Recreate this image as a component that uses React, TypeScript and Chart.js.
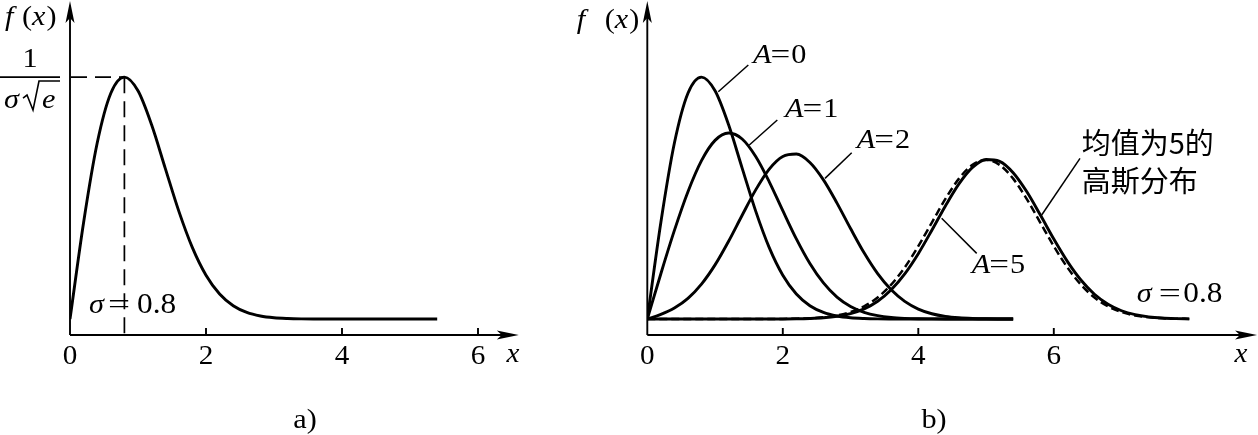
import React, { useEffect, useRef } from "react";
import { Chart, registerables } from "chart.js";
Chart.register(...registerables);

// ---------- data (sigma = 0.8) ----------
const xNear = [0, 0.2, 0.4, 0.6, 0.8, 1, 1.2, 1.4, 1.6, 1.8, 2, 2.2, 2.4, 2.6, 2.8, 3, 3.2, 3.4, 3.6, 3.8, 4, 4.2, 4.4, 4.6, 4.8, 5, 5.2, 5.4];
const xWide = [0, 0.2, 0.4, 0.6, 0.8, 1, 1.2, 1.4, 1.6, 1.8, 2, 2.2, 2.4, 2.6, 2.8, 3, 3.2, 3.4, 3.6, 3.8, 4, 4.2, 4.4, 4.6, 4.8, 5, 5.2, 5.4, 5.6, 5.8, 6, 6.2, 6.4, 6.6, 6.8, 7, 7.2, 7.4, 7.6, 7.8, 8];

const rayleighA0 = [0, 0.3029, 0.5516, 0.7076, 0.7582, 0.7153, 0.6088, 0.4732, 0.3383, 0.2238, 0.1373, 0.0784, 0.0417, 0.0207, 0.0096, 0.0041, 0.0017, 0.0006, 0.0002, 0.0001, 0, 0, 0, 0, 0, 0, 0, 0];
const ricianA1 = [0, 0.1421, 0.2778, 0.3991, 0.4965, 0.56, 0.5831, 0.5644, 0.5095, 0.4302, 0.3397, 0.2513, 0.1741, 0.1131, 0.0686, 0.0392, 0.0209, 0.0105, 0.0049, 0.0022, 0.0009, 0.0004, 0.0001, 0, 0, 0, 0, 0];
const ricianA2 = [0, 0.0146, 0.0347, 0.065, 0.1096, 0.1698, 0.2439, 0.3254, 0.4049, 0.4701, 0.5097, 0.5171, 0.4909, 0.4363, 0.3634, 0.2837, 0.2075, 0.1423, 0.0915, 0.0553, 0.0313, 0.0166, 0.0083, 0.0039, 0.0017, 0.0007, 0.0003, 0.0001];
const ricianA5 = [0, 0, 0, 0, 0, 0, 0, 0, 0, 0.0001, 0.0003, 0.0007, 0.0018, 0.004, 0.0086, 0.0171, 0.0319, 0.0559, 0.0919, 0.1417, 0.205, 0.2783, 0.3544, 0.4236, 0.4752, 0.5003, 0.4944, 0.4587, 0.3995, 0.3267, 0.2508, 0.1808, 0.1223, 0.0777, 0.0464, 0.026, 0.0137, 0.0068, 0.0031, 0.0014, 0.0006];
const gaussMean5 = [0, 0, 0, 0, 0, 0, 0, 0, 0, 0.0002, 0.0004, 0.0011, 0.0025, 0.0055, 0.0114, 0.0219, 0.0397, 0.0675, 0.1078, 0.1619, 0.2283, 0.3025, 0.3764, 0.4401, 0.4833, 0.4987, 0.4833, 0.4401, 0.3764, 0.3025, 0.2283, 0.1619, 0.1078, 0.0675, 0.0397, 0.0219, 0.0114, 0.0055, 0.0025, 0.0011, 0.0004];

const tickValues = [0, 2, 4, 6];
const tickLabels = ["0", "2", "4", "6"];
const riceLabels = ["0", "1", "2", "5"];
const gaussLabel = ["均值为5的", "高斯分布"];
const sigmaText = "0.8";

// ---------- styles ----------
const SERIF = '"Liberation Serif", "Times New Roman", serif';
const CJK = '"Noto Sans CJK SC", "Noto Sans CJK JP", sans-serif';
const font = (size: number, italic = false) => `${italic ? "italic " : ""}${size}px ${SERIF}`;
const INK = "#000";

const pairs = (xs: number[], ys: number[]) => xs.map((x, i) => ({ x, y: ys[i] }));

function seg(ctx: CanvasRenderingContext2D, x1: number, y1: number, x2: number, y2: number) {
  ctx.beginPath();
  ctx.moveTo(x1, y1);
  ctx.lineTo(x2, y2);
  ctx.stroke();
}

function arrowHead(ctx: CanvasRenderingContext2D, tx: number, ty: number, dx: number, dy: number) {
  const len = 22, half = 4.5, notch = 5;
  const bx = tx - dx * len, by = ty - dy * len;
  const px = -dy, py = dx;
  ctx.beginPath();
  ctx.moveTo(tx, ty);
  ctx.lineTo(bx + px * half, by + py * half);
  ctx.lineTo(tx - dx * (len - notch), ty - dy * (len - notch));
  ctx.lineTo(bx - px * half, by - py * half);
  ctx.closePath();
  ctx.fill();
}

// text with a slight horizontal stretch to match the wider print
function txt(
  ctx: CanvasRenderingContext2D,
  s: string,
  x: number,
  y: number,
  f: string,
  align: CanvasTextAlign = "left",
  sx = 1.08
) {
  ctx.save();
  ctx.font = f;
  ctx.textAlign = align;
  ctx.textBaseline = "alphabetic";
  ctx.fillStyle = INK;
  ctx.translate(x, y);
  ctx.scale(sx, 1);
  ctx.fillText(s, 0, 0);
  const w = ctx.measureText(s).width * sx;
  ctx.restore();
  return w;
}

function drawFrame(chart: any, xLabelAt: number, panelName: string, panelAt: number) {
  const { ctx, chartArea: a } = chart;
  const xs = chart.scales.x;
  const ox = xs.getPixelForValue(0);
  const ab = a.bottom;
  ctx.save();
  ctx.strokeStyle = INK;
  ctx.fillStyle = INK;
  ctx.lineWidth = 1.9;
  seg(ctx, ox, ab, a.right - 8, ab);
  arrowHead(ctx, a.right, ab, 1, 0);
  seg(ctx, ox, ab, ox, a.top + 9);
  arrowHead(ctx, ox, a.top + 1, 0, -1);
  tickValues.forEach((v, i) => {
    const px = xs.getPixelForValue(v);
    if (v !== 0) seg(ctx, px, ab, px, ab - 7);
    txt(ctx, tickLabels[i], px, ab + 29, font(27), "center");
  });
  txt(ctx, "x", xs.getPixelForValue(xLabelAt), ab + 27, font(27, true), "center");
  txt(ctx, panelName, xs.getPixelForValue(panelAt), ab + 93, font(28), "center");
  ctx.restore();
}

function fOfX(ctx: CanvasRenderingContext2D, left: number, parenLeft: number, base: number) {
  txt(ctx, "f", left, base, font(28, true));
  let x = parenLeft;
  x += txt(ctx, "(", x, base, font(28));
  x += txt(ctx, "x", x, base, font(28, true)) + 1;
  txt(ctx, ")", x, base, font(28));
}

function sigmaEq(ctx: CanvasRenderingContext2D, left: number, eqLeft: number, numLeft: number, base: number) {
  txt(ctx, "σ", left, base, font(28, true));
  txt(ctx, "=", eqLeft, base, font(28), "left", 1.4);
  txt(ctx, sigmaText, numLeft, base, font(29), "left", 1.08);
}

const peakIdx = 4;

const panelAPlugin = {
  id: "panelA",
  afterDatasetsDraw(chart: any) {
    const { ctx } = chart;
    const xs = chart.scales.x, ys = chart.scales.y;
    const X = (v: number) => xs.getPixelForValue(v);
    const Y = (v: number) => ys.getPixelForValue(v);
    drawFrame(chart, 6.515, "a)", 3.456);
    const ox = X(0), oy = Y(0);
    const pkx = X(xNear[peakIdx]), pky = Y(rayleighA0[peakIdx]);
    ctx.save();
    ctx.strokeStyle = INK;
    ctx.fillStyle = INK;
    ctx.lineWidth = 1.7;
    ctx.setLineDash([16, 8]);
    seg(ctx, ox + 1, pky, pkx, pky);
    seg(ctx, pkx, pky, pkx, chart.chartArea.bottom);
    ctx.setLineDash([]);
    // fraction 1 / (sigma sqrt e)
    ctx.lineWidth = 1.6;
    seg(ctx, ox - 70, pky, ox - 10, pky);
    txt(ctx, "1", ox - 40, oy - 252, font(28), "center");
    txt(ctx, "σ", ox - 66, oy - 211, font(28, true));
    ctx.lineWidth = 1.6;
    ctx.beginPath();
    ctx.moveTo(ox - 47, oy - 221);
    ctx.lineTo(ox - 43, oy - 224);
    ctx.lineTo(ox - 37, oy - 209);
    ctx.lineTo(ox - 31, oy - 238);
    ctx.lineTo(ox - 10, oy - 238);
    ctx.stroke();
    txt(ctx, "e", ox - 28, oy - 211, font(28, true));
    fOfX(ctx, ox - 65, ox - 48, oy - 294);
    sigmaEq(ctx, ox + 19, ox + 38, ox + 67, oy - 6.5);
    ctx.restore();
  },
};

const riceAnn = [
  { tx: 1.56, ty: 0.8024, l1: [1.491, 0.7961], l2: [1.048, 0.7124] },
  { tx: 2.0325, ty: 0.6333, l1: [1.919, 0.6239], l2: [1.506, 0.5455] },
  { tx: 3.091, ty: 0.5361, l1: [3.017, 0.5212], l2: [2.623, 0.441] },
  { tx: 4.788, ty: 0.1443, l1: [4.862, 0.2059], l2: [4.345, 0.3158] },
];

const panelBPlugin = {
  id: "panelB",
  afterDatasetsDraw(chart: any) {
    const { ctx } = chart;
    const xs = chart.scales.x, ys = chart.scales.y;
    const X = (v: number) => xs.getPixelForValue(v);
    const Y = (v: number) => ys.getPixelForValue(v);
    drawFrame(chart, 8.763, "b)", 4.232);
    const ox = X(0), oy = Y(0);
    ctx.save();
    ctx.strokeStyle = INK;
    ctx.fillStyle = INK;
    fOfX(ctx, ox - 70.5, ox - 42.5, oy - 291);
    riceAnn.forEach((a, i) => {
      ctx.lineWidth = 1.5;
      seg(ctx, X(a.l1[0]), Y(a.l1[1]), X(a.l2[0]), Y(a.l2[1]));
      let x = X(a.tx);
      const b = Y(a.ty);
      x += txt(ctx, "A", x, b, font(28, true)) - 1;
      x += txt(ctx, "=", x, b, font(28), "left", 1.25) + 1;
      txt(ctx, riceLabels[i], x, b, font(28));
    });
    ctx.lineWidth = 1.5;
    seg(ctx, X(6.387), Y(0.5037), X(5.821), Y(0.326));
    txt(ctx, gaussLabel[0], X(6.412), Y(0.5187), `29px ${CJK}`, "left", 1);
    txt(ctx, gaussLabel[1], X(6.412), Y(0.3997), `29px ${CJK}`, "left", 1);
    sigmaEq(ctx, X(7.224), X(7.224) + 22, X(7.224) + 46.5, Y(0.0545));
    ctx.restore();
  },
};

const solid = (data: { x: number; y: number }[]) => ({
  data,
  showLine: true,
  borderColor: INK,
  borderWidth: 2.9,
  pointRadius: 0,
  fill: false,
  cubicInterpolationMode: "monotone" as const,
});

function baseOptions(xMax: number, padLeft: number, padRight: number) {
  return {
    responsive: false,
    animation: false as const,
    devicePixelRatio: 1,
    events: [],
    layout: { autoPadding: false, padding: { left: padLeft, right: padRight, top: 0, bottom: 100 } },
    plugins: { legend: { display: false }, tooltip: { enabled: false } },
    scales: {
      x: { type: "linear" as const, min: 0, max: xMax, display: false },
      y: { type: "linear" as const, min: -0.05, max: 1.0, display: false },
    },
  };
}

export default function App() {
  const refA = useRef<HTMLCanvasElement>(null);
  const refB = useRef<HTMLCanvasElement>(null);
  useEffect(() => {
    document.body.style.margin = "0";
    document.body.style.background = "#fff";
    const ca = new Chart(refA.current!, {
      type: "scatter",
      data: { datasets: [solid(pairs(xNear, rayleighA0))] },
      options: baseOptions(6.6, 70, 41.2) as any,
      plugins: [panelAPlugin],
    });
    const cb = new Chart(refB.current!, {
      type: "scatter",
      data: {
        datasets: [
          solid(pairs(xNear, rayleighA0)),
          solid(pairs(xNear, ricianA1)),
          solid(pairs(xNear, ricianA2)),
          solid(pairs(xWide, ricianA5)),
          { ...solid(pairs(xWide, gaussMean5)), borderDash: [8, 4], borderWidth: 2.5 },
        ],
      },
      options: baseOptions(9, 87.3, 0.95) as any,
      plugins: [panelBPlugin],
    });
    return () => {
      ca.destroy();
      cb.destroy();
    };
  }, []);
  return (
    <div style={{ position: "relative", width: 1258, height: 435, background: "#fff", overflow: "hidden" }}>
      <canvas ref={refA} width={560} height={435} style={{ position: "absolute", left: 0, top: 0 }} />
      <canvas ref={refB} width={698} height={435} style={{ position: "absolute", left: 560, top: 0 }} />
    </div>
  );
}
